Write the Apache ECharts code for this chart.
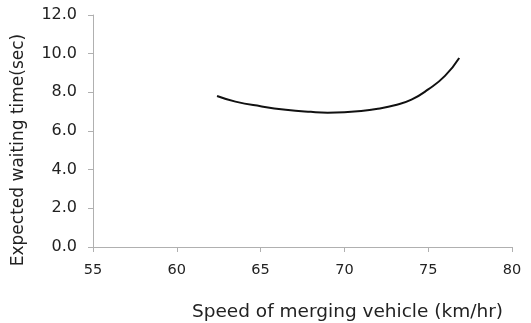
<!DOCTYPE html>
<html><head><meta charset="utf-8">
<script src="https://cdn.jsdelivr.net/npm/echarts@6/dist/echarts.min.js"></script>
<style>html,body{margin:0;padding:0;background:#fff}#c{width:531px;height:323px}</style>
</head><body><div id="c"></div>
<script>
var speeds = [62.4, 63.5, 65, 66.5, 68, 69, 70, 71, 72, 73, 74, 75, 76, 76.85];
var waitTimes = [7.81, 7.52, 7.28, 7.10, 6.99, 6.95, 6.97, 7.03, 7.15, 7.33, 7.62, 8.15, 8.85, 9.78];
var xTitle = 'Speed of merging vehicle (km/hr)';
var yTitle = 'Expected waiting time(sec)';

var pts = speeds.map(function(s, i){ return [s, waitTimes[i]]; });
var font = '"DejaVu Sans", sans-serif';
var chart = echarts.init(document.getElementById('c'));
chart.setOption({
  animation: false,
  grid: {left: 93, right: 19, top: 15, bottom: 76, containLabel: false, outerBoundsMode: 'none'},
  xAxis: {
    type: 'value', min: 55, max: 80, interval: 5,
    name: xTitle, nameLocation: 'middle', nameGap: 56,
    nameTextStyle: {fontFamily: font, fontSize: 18.5, color: '#222', padding: [0,0,0,90]},
    axisLine: {lineStyle: {color: '#b0b0b0'}},
    axisTick: {show: true, length: 5, lineStyle: {color: '#b0b0b0'}},
    axisLabel: {fontFamily: font, fontSize: 14.5, color: '#222', margin: 16},
    splitLine: {show: false}
  },
  yAxis: {
    type: 'value', min: 0, max: 12, interval: 2,
    name: yTitle, nameLocation: 'middle', nameGap: 66,
    nameTextStyle: {fontFamily: font, fontSize: 17, color: '#222', padding: [0,38,0,0]},
    axisLine: {show: true, lineStyle: {color: '#b0b0b0'}},
    axisTick: {show: true, length: 5, lineStyle: {color: '#b0b0b0'}},
    axisLabel: {fontFamily: font, fontSize: 16, color: '#222', margin: 16,
      formatter: function(v){ return v.toFixed(1); }},
    splitLine: {show: false}
  },
  series: [{
    type: 'line', data: pts, smooth: true, showSymbol: false,
    lineStyle: {color: '#111', width: 2}
  }]
});
</script>
</body></html>
